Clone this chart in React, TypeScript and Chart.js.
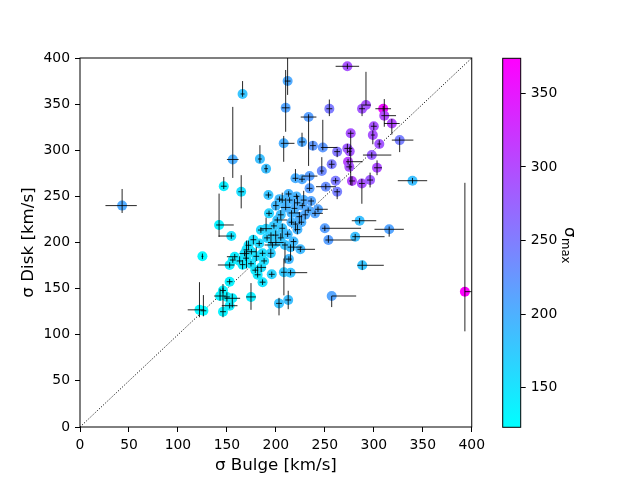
import { useEffect, useRef } from 'react';
import { Chart, registerables } from 'chart.js';

Chart.register(...registerables);

// sigma bulge / sigma disk (km/s), colour value sigma_max, asymmetric errors
const bulge = [
    273, 212, 166, 210, 254.6, 233.4, 292, 288, 309.6, 310.7,
    318.4, 300, 299, 326.4, 305.6, 297.9, 303.3, 276.4, 273, 275.4,
    273.7, 275, 277.7, 287.8, 296.2, 262.6, 257, 246.9, 247.9, 237.8,
    226.7, 208, 183.7, 156, 190, 220, 226.7, 234.4, 234.4, 251,
    261, 262.6, 192.4, 164.6, 146.8, 142, 154.5, 125, 43, 122,
    126, 143, 146, 152.8, 150, 155.5, 146, 152.8, 174.6, 203.2,
    212.6, 257, 186.4, 195.8, 208.2, 215, 213.3, 225, 181.4, 179,
    158, 169.6, 166, 152.8, 156, 172, 170, 168, 183, 194.8,
    196.5, 199.8, 206.5, 209.3, 198, 201.5, 205, 206.5, 214, 193,
    184.7, 186.4, 174.6, 177, 188, 185, 191, 213, 221, 228.4,
    203.7, 240, 219, 224, 216, 230, 212, 222, 218, 233,
    227, 250, 253.6, 285.5, 281, 288.2, 315.7, 339.5, 393,
    200, 210, 216, 222, 236, 243, 190, 195, 205, 215,
    180, 175, 163, 200, 220, 226,
];
const disk = [
    391, 375, 361, 346, 345, 336, 349, 345, 345, 337.5,
    329, 326, 316.5, 311, 306.8, 294.8, 281, 318.4, 302, 298.8,
    287.6, 282, 266.7, 264, 267.7, 298.5, 284.8, 277.5, 303, 305,
    309, 307.5, 290.5, 290, 280, 269.6, 268.6, 272, 258.7, 260.5,
    267, 255, 251.5, 255, 261, 219, 207, 185, 240, 127,
    126, 142, 148, 157.5, 141, 139.5, 125, 131.5, 141, 134,
    137.7, 142, 157, 165.5, 167.7, 167.3, 182, 192.6, 165, 170,
    184.6, 183, 176, 175.6, 181, 197, 192, 188, 199, 188.3,
    197.3, 208, 215.4, 197.3, 218, 224.4, 230, 246, 246, 231.6,
    213.5, 188.3, 177, 203, 180, 173, 205, 252.6, 250, 246,
    247, 231.6, 237, 228, 222, 230, 209, 214, 201, 235,
    240, 215.4, 202.7, 223.6, 206.3, 175.3, 214.3, 267, 146.7,
    240, 238, 232, 243, 245, 236, 215, 208, 205, 195,
    185, 190, 180, 200, 220, 222,
];
const sigmaMax = [
    290, 205, 180, 210, 250, 215, 290, 285, 360, 300,
    300, 290, 290, 245, 285, 275, 295, 290, 280, 285,
    305, 290, 300, 290, 280, 255, 250, 235, 220, 220,
    205, 200, 185, 200, 185, 200, 205, 215, 215, 230,
    250, 245, 180, 155, 140, 135, 150, 130, 205, 130,
    130, 135, 135, 135, 135, 140, 135, 140, 140, 180,
    185, 210, 150, 165, 175, 180, 190, 190, 145, 145,
    140, 145, 145, 140, 140, 150, 150, 150, 160, 170,
    170, 175, 180, 180, 175, 180, 185, 190, 195, 165,
    160, 155, 150, 155, 155, 155, 165, 195, 195, 200,
    190, 210, 200, 200, 195, 205, 190, 195, 190, 205,
    205, 215, 215, 185, 185, 180, 210, 185, 373,
    190, 195, 195, 200, 210, 210, 165, 170, 180, 185,
    155, 150, 145, 175, 195, 200,
];
const bulgeErrLo = [
    12, 3, 2, 4, 3, 8, 5, 3, 8, 3,
    8, 3, 2, 8, 2, 9, 3, 3, 3, 2,
    2, 3, 3, 3, 3, 3, 3, 2, 2, 3,
    3, 3, 2, 6, 2, 3, 3, 8, 3, 10,
    3, 3, 3, 3, 3, 3, 13, 1, 17, 12,
    3, 6, 3, 3, 3, 8, 3, 8, 5, 3,
    3, 0, 3, 3, 3, 3, 3, 3, 3, 3,
    8, 3, 3, 12, 3, 3, 3, 5, 3, 3,
    8, 3, 3, 3, 3, 3, 3, 3, 3, 3,
    3, 3, 3, 3, 3, 5, 3, 3, 3, 3,
    3, 3, 3, 3, 3, 3, 3, 3, 3, 3,
    3, 3, 3, 8, 3, 5, 15, 15, 0,
    3, 5, 3, 3, 3, 3, 6, 3, 3, 3,
    3, 5, 3, 8, 3, 3,
];
const bulgeErrHi = [
    12, 3, 2, 4, 3, 8, 5, 3, 8, 12,
    8, 3, 2, 14, 2, 20, 5, 3, 5, 2,
    15, 3, 3, 3, 3, 3, 3, 2, 15, 3,
    3, 11, 2, 6, 2, 3, 3, 8, 3, 10,
    3, 3, 3, 3, 3, 15, 3, 1, 15, 5,
    3, 6, 3, 3, 3, 8, 3, 8, 5, 3,
    3, 25, 3, 3, 3, 17, 3, 15, 3, 3,
    3, 3, 3, 5, 3, 3, 3, 5, 3, 3,
    8, 3, 3, 3, 3, 10, 3, 3, 3, 3,
    3, 3, 3, 3, 3, 5, 3, 3, 3, 3,
    3, 8, 3, 3, 3, 3, 3, 3, 3, 3,
    3, 37, 28, 17, 30, 22, 15, 15, 7,
    3, 5, 8, 3, 3, 10, 6, 3, 3, 12,
    3, 5, 3, 8, 3, 3,
];
const diskErrLo = [
    3, 15, 3, 26, 8, 53, 0, 8, 3, 12,
    12, 4, 10, 13, 4, 3, 8, 56, 5, 5,
    3, 3, 5, 22, 8, 6, 4, 3, 3, 5,
    5, 20, 4, 20, 4, 3, 3, 3, 3, 3,
    3, 8, 3, 18, 3, 13, 3, 3, 8, 8,
    6, 5, 3, 3, 5, 10, 6, 3, 14, 13,
    10, 12, 3, 3, 25, 3, 3, 3, 3, 3,
    3, 3, 5, 3, 3, 5, 20, 3, 3, 5,
    3, 5, 10, 20, 3, 3, 5, 3, 3, 3,
    3, 3, 3, 5, 3, 5, 3, 3, 3, 5,
    3, 3, 5, 8, 3, 5, 3, 5, 10, 3,
    3, 3, 3, 3, 3, 5, 8, 3, 43,
    5, 3, 12, 3, 5, 3, 3, 10, 3, 15,
    5, 3, 3, 3, 8, 3,
];
const diskErrHi = [
    3, 25, 14, 41, 10, 3, 36, 3, 3, 18,
    5, 4, 5, 3, 4, 3, 8, 3, 5, 5,
    3, 3, 5, 5, 8, 3, 4, 15, 30, 5,
    10, 8, 15, 57, 4, 10, 3, 3, 10, 3,
    3, 3, 3, 18, 10, 34, 3, 3, 18, 30,
    17, 8, 3, 3, 5, 5, 30, 3, 15, 6,
    10, 0, 3, 3, 15, 3, 3, 3, 10, 3,
    3, 8, 5, 3, 3, 5, 10, 3, 3, 5,
    3, 5, 5, 3, 3, 3, 5, 8, 3, 3,
    3, 3, 3, 5, 3, 3, 3, 3, 3, 10,
    3, 3, 10, 5, 3, 5, 3, 5, 3, 3,
    3, 3, 5, 3, 3, 5, 3, 3, 118,
    5, 10, 3, 8, 3, 3, 12, 3, 5, 3,
    10, 3, 5, 3, 3, 8,
];

const axisTicks = [0, 50, 100, 150, 200, 250, 300, 350, 400];
const colorbarTicks = [150, 200, 250, 300, 350];
const CB_MIN = 123.1;
const CB_MAX = 373.8;
const diagonal = [0, 400];

const FONT = 'DejaVu Sans';

const coolColor = (v: number) => {
    const t = Math.min(1, Math.max(0, (v - CB_MIN) / (CB_MAX - CB_MIN)));
    return `rgb(${Math.round(255 * t)},${Math.round(255 * (1 - t))},255)`;
};

// error bars go on top of the markers, like matplotlib does here
const errorBarPlugin = {
    id: 'errorBars',
    afterDatasetsDraw(chart: any) {
        const { ctx, scales: { x, y } } = chart;
        ctx.save();
        ctx.strokeStyle = 'rgba(0,0,0,0.85)';
        ctx.lineWidth = 1;
        bulge.forEach((bx, i) => {
            const px = x.getPixelForValue(bx);
            const py = y.getPixelForValue(disk[i]);
            ctx.beginPath();
            ctx.moveTo(x.getPixelForValue(bx - bulgeErrLo[i]), py);
            ctx.lineTo(x.getPixelForValue(bx + bulgeErrHi[i]), py);
            ctx.moveTo(px, y.getPixelForValue(disk[i] - diskErrLo[i]));
            ctx.lineTo(px, y.getPixelForValue(disk[i] + diskErrHi[i]));
            ctx.stroke();
        });
        ctx.restore();
    },
};

const framePlugin = {
    id: 'frame',
    afterDraw(chart: any) {
        const { ctx, chartArea: a } = chart;
        ctx.save();
        ctx.strokeStyle = '#000';
        ctx.lineWidth = 1;
        ctx.strokeRect(a.left, a.top, a.right - a.left, a.bottom - a.top);
        ctx.restore();
    },
};

const cbLabelPlugin = {
    id: 'cbLabel',
    afterDraw(chart: any) {
        const { ctx } = chart;
        ctx.save();
        ctx.translate(125, 227);
        ctx.rotate(Math.PI / 2);
        ctx.fillStyle = '#000';
        ctx.textBaseline = 'alphabetic';
        ctx.font = `16.7px "${FONT}"`;
        ctx.fillText('σ', 0, 0);
        const w = ctx.measureText('σ').width;
        ctx.font = `11.7px "${FONT}"`;
        ctx.fillText('max', w + 0.5, 3);
        ctx.restore();
    },
};

const axisCommon = (title: string, titlePadding: any) => ({
    type: 'linear' as const,
    min: 0,
    max: 400,
    afterBuildTicks: (s: any) => { s.ticks = axisTicks.map((v) => ({ value: v })); },
    grid: { display: true, drawOnChartArea: false, tickLength: 5, color: '#000', tickColor: '#000' },
    border: { display: false },
    ticks: { color: '#000', font: { family: FONT, size: 13.9 }, padding: 5, autoSkip: false, maxRotation: 0 },
    title: { display: true, text: title, color: '#000', font: { family: FONT, size: 16.7 }, padding: titlePadding },
});

export default function App() {
    const mainRef = useRef<HTMLCanvasElement>(null);
    const cbRef = useRef<HTMLCanvasElement>(null);

    useEffect(() => {
        if (!mainRef.current || !cbRef.current) return;

        const main = new Chart(mainRef.current, {
            type: 'scatter',
            data: {
                datasets: [
                    {
                        data: bulge.map((bx, i) => ({ x: bx, y: disk[i] })),
                        pointBackgroundColor: sigmaMax.map(coolColor),
                        pointBorderWidth: 0,
                        pointRadius: 5,
                        showLine: false,
                    },
                    {
                        type: 'line',
                        data: diagonal.map((v) => ({ x: v, y: v })),
                        borderColor: '#000',
                        borderWidth: 1,
                        borderDash: [1.1, 1.8],
                        pointRadius: 0,
                        showLine: true,
                    } as any,
                ],
            },
            options: {
                animation: false,
                responsive: false,
                layout: { padding: { left: 0, top: 58, right: 13, bottom: 0 } },
                plugins: { legend: { display: false }, tooltip: { enabled: false } },
                scales: {
                    x: { ...axisCommon('σ Bulge [km/s]', { top: 0, bottom: 4 }), afterFit: (s: any) => { s.height = 53; } },
                    y: { ...axisCommon('σ Disk [km/s]', { top: 19, bottom: 0 }), afterFit: (s: any) => { s.width = 80; } },
                } as any,
            },
            plugins: [errorBarPlugin, framePlugin],
        });

        const cb = new Chart(cbRef.current, {
            type: 'bar',
            data: {
                labels: [''],
                datasets: [{
                    data: [[CB_MIN, CB_MAX]] as any,
                    backgroundColor: (c: any) => {
                        const area = c.chart.chartArea;
                        if (!area) return coolColor(CB_MIN);
                        const g = c.chart.ctx.createLinearGradient(0, area.bottom, 0, area.top);
                        g.addColorStop(0, coolColor(CB_MIN));
                        g.addColorStop(1, coolColor(CB_MAX));
                        return g;
                    },
                    borderWidth: 0,
                    barPercentage: 1,
                    categoryPercentage: 1,
                }],
            },
            options: {
                animation: false,
                responsive: false,
                layout: { padding: { left: 62.7, top: 58.3, right: 0, bottom: 52.7 } },
                plugins: { legend: { display: false }, tooltip: { enabled: false } },
                scales: {
                    x: { display: false },
                    y: {
                        position: 'right',
                        min: CB_MIN,
                        max: CB_MAX,
                        afterBuildTicks: (s: any) => { s.ticks = colorbarTicks.map((v) => ({ value: v })); },
                        afterFit: (s: any) => { s.width = 200 - 80.7; },
                        grid: { display: true, drawOnChartArea: false, tickLength: 5, color: '#000', tickColor: '#000' },
                        border: { display: false },
                        ticks: { color: '#000', font: { family: FONT, size: 13.9 }, padding: 5 },
                    },
                } as any,
            },
            plugins: [framePlugin, cbLabelPlugin],
        });

        return () => {
            main.destroy();
            cb.destroy();
        };
    }, []);

    return (
        <div style={{ position: 'absolute', left: 0, top: 0, width: 640, height: 480, background: '#fff' }}>
            <canvas ref={mainRef} width={490} height={480} style={{ position: 'absolute', left: 0, top: 0 }} />
            <canvas ref={cbRef} width={200} height={480} style={{ position: 'absolute', left: 440, top: 0 }} />
        </div>
    );
}
